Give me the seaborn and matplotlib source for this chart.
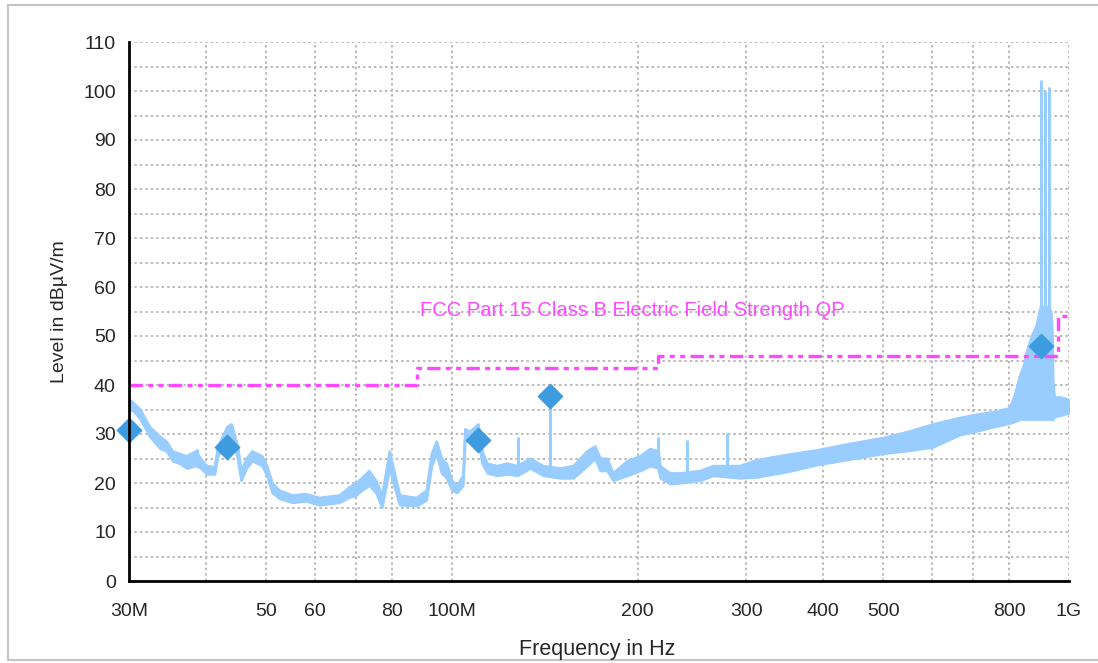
import numpy as np
import pandas as pd
import matplotlib
matplotlib.use("Agg")
import matplotlib.pyplot as plt
import seaborn as sns
from matplotlib.ticker import FixedLocator, FixedFormatter, NullLocator, NullFormatter
from matplotlib.lines import Line2D

# ---------------- data ----------------
band_freq = [30.1, 30.6, 31.3, 32.4, 33.7, 34.5, 35.3, 36.2, 37.2, 38.5, 39.2, 40.1,
             41.3, 41.8, 43.3, 44.0, 45.0, 45.6, 46.5, 47.5, 49.3, 50.2, 51.2, 52.6,
             55.2, 58.0, 61.0, 65.8, 68.0, 70.0, 71.5, 73.5, 75.4, 77.1, 79.3, 80.8,
             82.4, 87.7, 91.0, 92.8, 94.5, 96.3, 98.1, 100.1, 102.0, 104.3, 105.1,
             107.1, 110.4, 112.0, 114.2, 118.5, 123.0, 127.7, 134.0, 140.7, 149.9,
             157.4, 165.8, 170.8, 174.0, 178.6, 182.6, 192.5, 202.0, 209.7, 216.1,
             217.7, 226.0, 234.6, 252.7, 265.3, 293.1, 312.2, 350.0, 390.5, 440.0,
             499.5, 550.0, 601.4, 665.0, 710.0, 753.0, 802.0, 817.0, 833.0, 845.0,
             855.0, 870.0, 885.0, 900.0, 925.0, 935.0, 940.0, 942.0, 947.0, 970.0,
             1000.0]
band_lo = [35.0, 34.5, 33.0, 29.5, 27.0, 26.5, 24.5, 24.0, 23.0, 23.5, 23.0, 21.8,
           21.8, 25.5, 29.0, 29.5, 25.0, 20.5, 23.0, 24.5, 23.5, 21.5, 18.0, 16.8,
           16.0, 16.3, 15.5, 16.0, 17.0, 17.5, 18.5, 19.5, 18.0, 15.0, 23.0, 19.0,
           15.5, 15.3, 16.5, 23.5, 26.0, 22.0, 21.0, 18.5, 18.0, 19.5, 28.5,
           28.5, 29.0, 24.0, 22.0, 21.5, 21.8, 21.5, 23.0, 21.5, 21.0,
           21.0, 23.5, 25.0, 22.5, 22.5, 20.5, 21.5, 22.5, 23.5, 23.0,
           21.0, 19.8, 20.0, 20.5, 21.5, 21.0, 21.2, 22.3, 23.7, 24.8,
           26.0, 26.6, 27.3, 29.8, 30.6, 31.4, 32.2, 32.5, 33.0, 33.0,
           33.0, 33.0, 33.0, 33.0, 33.0, 33.0, 33.0, 32.9, 33.5, 33.8,
           34.3]
band_hi = [37.0, 36.2, 35.0, 31.5, 29.5, 28.5, 26.5, 26.0, 25.5, 26.5, 25.0, 23.5,
           23.3, 27.5, 31.5, 32.0, 27.5, 22.5, 25.0, 26.5, 25.5, 23.5, 20.0, 18.5,
           17.5, 17.8, 17.0, 17.5, 19.0, 20.0, 21.0, 22.5, 20.5, 17.5, 26.5, 22.0,
           17.5, 17.0, 18.5, 26.0, 28.5, 25.0, 24.0, 20.5, 19.5, 21.5, 31.0,
           30.5, 32.0, 26.5, 24.0, 23.5, 24.0, 23.5, 25.0, 23.5, 23.0,
           23.5, 26.5, 27.5, 25.0, 25.0, 22.0, 24.5, 25.5, 27.0, 26.5,
           23.5, 22.0, 22.0, 22.5, 23.5, 23.5, 24.7, 25.8, 26.7, 28.0,
           29.2, 30.5, 32.0, 33.3, 34.0, 34.5, 35.3, 38.0, 42.0, 44.0,
           47.0, 50.0, 52.0, 56.0, 56.0, 55.0, 50.0, 41.0, 37.5, 37.5,
           37.0]

spike_freq = [38.6, 128.2, 144.4, 216.1, 240.8, 279.5, 901.0, 915.0, 928.0]
spike_base = [24.0, 23.0, 23.0, 25.0, 22.0, 23.0, 55.0, 55.0, 55.0]
spike_top = [27.0, 29.4, 38.0, 29.4, 28.8, 30.2, 102.2, 100.0, 100.8]

marker_freq = [30.0, 43.3, 110.4, 144.4, 902.0]
marker_level = [30.8, 27.3, 28.8, 37.8, 48.0]

limit_freq = [30.0, 88.0, 216.0, 960.0, 1000.0]
limit_level = [40.0, 43.5, 46.0, 54.0, 54.0]
limit_name = "FCC Part 15 Class B Electric Field Strength QP"

xtick_vals = [30, 40, 50, 60, 70, 80, 100, 200, 300, 400, 500, 600, 700, 800, 1000]
xtick_labels = ['30M', '', '50', '60', '', '80', '100M', '200', '300', '400', '500',
                '', '', '800', '1G']
ytick_vals = list(range(0, 111, 10))
ytick_minor = list(range(0, 111, 5))

# ---------------- styling ----------------
sns.set_style("white")
plt.rcParams['font.family'] = ['Liberation Sans', 'DejaVu Sans']

TRACE = '#99CCFF'
MARK = '#3D9BDF'
LIMIT = '#FF48FF'
GRID = '#b8b8b8'

W, H = 1098, 663
fig = plt.figure(figsize=(W / 100, H / 100), dpi=100)
ax = fig.add_axes([129 / W, 1 - 581 / H, (1069 - 129) / W, (581 - 42) / H])

band = pd.DataFrame({'freq': band_freq, 'lo': band_lo, 'hi': band_hi})
ax.fill_between(band['freq'], band['lo'], band['hi'], color=TRACE, lw=1.5,
                edgecolor=TRACE, zorder=3)
sns.lineplot(data=band, x='freq', y='hi', ax=ax, color=TRACE, lw=1.5,
             estimator=None, sort=False, zorder=3)
sns.lineplot(data=band, x='freq', y='lo', ax=ax, color=TRACE, lw=1.5,
             estimator=None, sort=False, zorder=3)
ax.vlines(spike_freq, spike_base, spike_top, color=TRACE, lw=2.2, zorder=3)

lim = pd.DataFrame({'freq': limit_freq, 'level': limit_level})
sns.lineplot(data=lim, x='freq', y='level', ax=ax, color=LIMIT, lw=2.4,
             estimator=None, sort=False, drawstyle='steps-post', zorder=4)
ax.lines[-1].set_linestyle((0, (4.0, 1.6, 1.5, 1.6, 1.5, 1.6)))

mk = pd.DataFrame({'freq': marker_freq, 'level': marker_level})
sns.scatterplot(data=mk, x='freq', y='level', ax=ax, marker='D', s=165,
                color=MARK, edgecolor=MARK, linewidth=0.5, zorder=6, clip_on=False)

ax.text(88.7, 55.3, limit_name, color=LIMIT, fontsize=14.5, va='center', ha='left',
        zorder=5)

ax.set_xscale('log')
ax.set_xlim(30, 1000)
ax.set_ylim(0, 110)
ax.xaxis.set_major_locator(FixedLocator(xtick_vals))
ax.xaxis.set_major_formatter(FixedFormatter(xtick_labels))
ax.xaxis.set_minor_locator(NullLocator())
ax.xaxis.set_minor_formatter(NullFormatter())
ax.yaxis.set_major_locator(FixedLocator(ytick_vals))
ax.yaxis.set_minor_locator(FixedLocator(ytick_minor))
ax.set_xlabel('')
ax.set_ylabel('')

ax.grid(True, which='both', axis='y', linestyle=(0, (1.2, 1.6)), color=GRID, lw=1.4)
ax.grid(True, which='major', axis='x', linestyle=(0, (1.2, 1.6)), color=GRID, lw=1.4)
ax.set_axisbelow(True)
for s in ['top', 'right']:
    ax.spines[s].set_visible(False)
for s in ['left', 'bottom']:
    ax.spines[s].set_linewidth(2.0)
    ax.spines[s].set_color('black')
    ax.spines[s].set_zorder(7)
ax.tick_params(axis='both', which='both', direction='inout', length=11, width=1.8,
               color='black', labelsize=14, pad=4)
ax.tick_params(axis='x', pad=10)

fig.text(597 / W, 1 - 650 / H, 'Frequency in Hz', ha='center', va='center', fontsize=15.5)
fig.text(60 / W, 1 - 312 / H, 'Level in dBµV/m', ha='center', va='center',
         rotation=90, fontsize=14)

# outer frame
for xs, ys in [([8, W], [5, 5]), ([8, 8], [5, 660]), ([8, W], [660, 660])]:
    fig.add_artist(Line2D([x / W for x in xs], [1 - y / H for y in ys],
                          color='#c4c4c4', lw=1.5))

fig.savefig('out.png', dpi=100)
